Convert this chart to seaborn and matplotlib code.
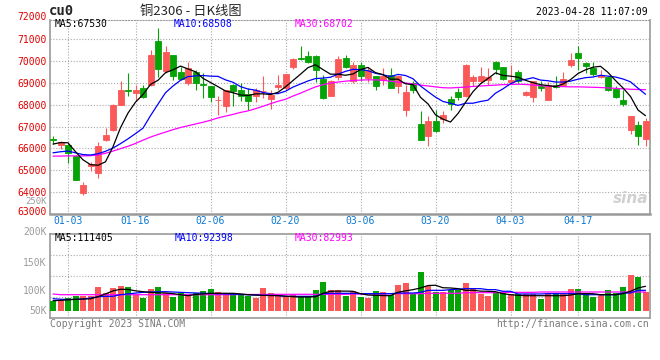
import numpy as np
import pandas as pd
import matplotlib
matplotlib.use("Agg")
import matplotlib.pyplot as plt
from matplotlib.transforms import ScaledTranslation
import seaborn as sns

# trading days shown (cu0 daily K)
dates = ["12-29", "12-30", "01-03", "01-04", "01-05", "01-06", "01-09", "01-10", "01-11", "01-12",
         "01-13", "01-16", "01-17", "01-18", "01-19", "01-20", "01-30", "01-31", "02-01", "02-02",
         "02-03", "02-06", "02-07", "02-08", "02-09", "02-10", "02-13", "02-14", "02-15", "02-16",
         "02-17", "02-20", "02-21", "02-22", "02-23", "02-24", "02-27", "02-28", "03-01", "03-02",
         "03-03", "03-06", "03-07", "03-08", "03-09", "03-10", "03-13", "03-14", "03-15", "03-16",
         "03-17", "03-20", "03-21", "03-22", "03-23", "03-24", "03-27", "03-28", "03-29", "03-30",
         "03-31", "04-03", "04-04", "04-06", "04-07", "04-10", "04-11", "04-12", "04-13", "04-14",
         "04-17", "04-18", "04-19", "04-20", "04-21", "04-24", "04-25", "04-26", "04-27", "04-28"]

opens = [66420, 66180, 66180, 65650, 63970, 65200, 64860, 66380, 66860, 68000,
         68680, 68540, 68760, 68890, 70920, 69530, 70290, 69480, 68990, 69520,
         68930, 68870, 68220, 67930, 68920, 68660, 68500, 68380, 68620, 68280,
         68800, 68760, 69750, 70140, 70240, 70240, 69170, 68410, 69270, 70130,
         69110, 69830, 69220, 69300, 69150, 69370, 68840, 67780, 68990, 67140,
         66590, 67240, 67350, 68260, 68570, 68410, 69110, 69110, 69140, 69940,
         69710, 69050, 69520, 68440, 68350, 68840, 68230, 68920, 68920, 69830,
         70360, 69900, 69680, 69270, 69270, 68720, 68230, 66830, 67090, 66440]

highs = [66560, 66350, 66200, 65700, 64475, 65380, 66290, 66940, 68050, 69070,
         69450, 68920, 68900, 70510, 71500, 70670, 70300, 69750, 69980, 69600,
         69450, 68880, 68380, 68680, 68930, 68990, 68760, 68760, 69300, 68690,
         69370, 69430, 70160, 70700, 70440, 70290, 69370, 69150, 70210, 70290,
         69940, 69940, 69750, 69310, 69680, 69680, 69370, 68920, 69070, 67700,
         67470, 67780, 67700, 68410, 68760, 69860, 69370, 69750, 69680, 70010,
         69750, 69830, 69600, 68610, 69110, 69070, 69020, 69330, 69480, 70360,
         70670, 69980, 69980, 69600, 69330, 68870, 68690, 67480, 67270, 67400]

lows = [66220, 65980, 65340, 64550, 63860, 64960, 64630, 66350, 66800, 67980,
        68410, 68160, 68330, 68860, 69270, 69450, 69140, 69150, 68920, 68690,
        68310, 68110, 67550, 67650, 67960, 68160, 67780, 68110, 68310, 67810,
        68690, 68690, 69630, 70070, 69900, 69020, 68280, 68400, 69140, 69680,
        68990, 69070, 69020, 68660, 68920, 68750, 68540, 67470, 68540, 66380,
        66130, 66740, 67170, 67750, 68230, 68340, 68840, 68990, 68920, 69420,
        69140, 68990, 68990, 68410, 68110, 68610, 68220, 68760, 68840, 69750,
        69570, 69450, 69330, 69220, 68610, 68310, 67930, 66640, 66180, 66100]

closes = [66400, 66300, 65800, 64550, 64350, 65300, 66130, 66630, 68000, 68690,
          68640, 68660, 68350, 70290, 69650, 70410, 69300, 69180, 69680, 68990,
          68900, 68350, 68240, 68660, 68610, 68410, 68160, 68660, 68650, 68460,
          68920, 69420, 70100, 70100, 69980, 69570, 68290, 69070, 70090, 69750,
          69830, 69300, 69600, 68870, 69300, 68760, 69300, 68570, 68660, 66410,
          67240, 66820, 67550, 68050, 68340, 69800, 69270, 69330, 69270, 69650,
          69180, 69140, 69070, 68570, 69070, 68760, 68920, 68810, 69180, 70060,
          70160, 69780, 69420, 69370, 68660, 68340, 68050, 67470, 66560, 67240]

ma5 = [66200, 66270, 66260, 65850, 65480, 65260, 65230, 65390, 66080, 66950,
       67620, 68120, 68470, 68930, 69120, 69470, 69600, 69770, 69640, 69510,
       69210, 69020, 68830, 68630, 68550, 68450, 68420, 68500, 68500, 68470,
       68570, 68820, 69110, 69400, 69700, 69830, 69610, 69400, 69400, 69350,
       69410, 69610, 69710, 69470, 69380, 69170, 69170, 68960, 68920, 68340,
       68040, 67540, 67340, 67210, 67600, 68110, 68600, 68960, 69200, 69460,
       69340, 69310, 69260, 69120, 69010, 68920, 68880, 68830, 68950, 69150,
       69430, 69600, 69720, 69760, 69480, 69110, 68770, 68380, 67760, 67500]

ma10 = [65800, 65850, 65880, 65800, 65720, 65700, 65760, 65870, 66020, 66220,
        66440, 66680, 66930, 67500, 68030, 68550, 68860, 69120, 69290, 69320,
        69340, 69310, 69300, 69140, 69030, 68830, 68720, 68670, 68560, 68510,
        68510, 68620, 68810, 68950, 69090, 69200, 69220, 69260, 69400, 69530,
        69620, 69610, 69560, 69440, 69370, 69290, 69390, 69340, 69190, 68860,
        68600, 68350, 68150, 68070, 67970, 68070, 68070, 68150, 68210, 68530,
        68730, 68960, 69110, 69160, 69240, 69130, 69100, 69040, 69040, 69080,
        69170, 69240, 69270, 69350, 69310, 69270, 69180, 69050, 68760, 68480]

ma30 = [65650, 65650, 65660, 65660, 65660, 65670, 65700, 65780, 65880, 65990,
        66100, 66230, 66380, 66520, 66640, 66750, 66860, 66960, 67040, 67120,
        67200, 67290, 67400, 67480, 67560, 67650, 67720, 67820, 67930, 68050,
        68160, 68250, 68400, 68530, 68680, 68820, 68920, 68990, 69040, 69080,
        69110, 69130, 69140, 69140, 69120, 69080, 69040, 69000, 68950, 68900,
        68860, 68820, 68780, 68770, 68790, 68810, 68840, 68860, 68880, 68900,
        68920, 68930, 68940, 68930, 68900, 68870, 68850, 68840, 68830, 68820,
        68820, 68810, 68800, 68790, 68770, 68750, 68730, 68710, 68700, 68690]

volumes = [80900, 82700, 85700, 89800, 89800, 88800, 105400, 94700, 103600, 107200,
           105400, 91600, 85700, 101800, 105400, 94100, 87500, 94700, 91600, 94700,
           98200, 101800, 97000, 94100, 94700, 91600, 88800, 85700, 103600, 94700,
           91600, 87500, 91600, 87500, 88800, 100000, 114300, 100000, 100000, 89800,
           97700, 87500, 85700, 98200, 96400, 91600, 109000, 112500, 92900, 132200,
           106600, 96400, 96400, 100500, 100500, 112500, 102300, 92900, 89800, 96400,
           94700, 92900, 92900, 92900, 92900, 83900, 94700, 94700, 92900, 101800,
           101800, 94700, 87500, 92900, 100000, 94700, 105400, 126800, 123200, 96400]

vol_ma5 = [80900, 81500, 82500, 83300, 83900, 84200, 88000, 93000, 98500, 101300,
           101000, 98500, 97000, 95800, 95000, 94650, 93500, 91600, 89800, 92000,
           93000, 94000, 94100, 94100, 94100, 93000, 91600, 91000, 90500, 90000,
           90000, 89000, 88000, 87500, 87500, 88000, 94000, 97700, 98000, 98000,
           97700, 93400, 91000, 90500, 90000, 89800, 96000, 98500, 100600, 103600,
           108000, 108500, 104000, 103600, 102400, 99400, 99400, 98000, 97700, 97000,
           93400, 91600, 90500, 89800, 89800, 89800, 89800, 89800, 89800, 91000,
           93400, 93400, 93400, 91600, 91600, 91600, 93400, 97700, 103600, 106600]

vol_ma10 = [84500, 83500, 83000, 83300, 83900, 85700, 88000, 88700, 88700, 91600,
            93000, 94500, 95800, 96400, 96800, 97000, 96400, 95800, 95200, 94650,
            94300, 93800, 93400, 93000, 92500, 92000, 91600, 91000, 90500, 90500,
            90000, 88700, 88700, 88700, 88700, 88700, 93400, 94100, 94100, 94100,
            94100, 93400, 93400, 93400, 93400, 93400, 94650, 94650, 94650, 95800,
            99400, 99400, 99400, 100600, 101500, 102400, 102400, 102400, 100600, 100600,
            97700, 97700, 92900, 92900, 92900, 92900, 93400, 93400, 93400, 93400,
            93400, 91600, 91600, 91600, 91600, 91600, 94650, 94650, 99400, 99400]

vol_ma30 = [92900, 91600, 91600, 91600, 91600, 91600, 91600, 91600, 91600, 91600,
            91600, 91600, 91600, 91600, 91600, 91600, 91600, 91600, 91600, 91600,
            91600, 91600, 91600, 91600, 91600, 92000, 92000, 92000, 92000, 92000,
            92300, 92300, 92300, 92300, 92300, 92300, 92300, 92300, 92300, 92300,
            92900, 92900, 92900, 92900, 92900, 93400, 93400, 93400, 93400, 93400,
            94100, 94100, 94100, 94100, 94100, 95200, 95200, 95200, 95200, 95200,
            95800, 95800, 95800, 95800, 95800, 96400, 96400, 96400, 96400, 96400,
            96400, 96400, 96400, 96400, 96400, 96400, 96400, 96400, 96400, 96400]

tick_dates = ["01-03", "01-16", "02-06", "02-20", "03-06", "03-20", "04-03", "04-17"]
price_ticks = [63000, 64000, 65000, 66000, 67000, 68000, 69000, 70000, 71000]
vol_ticks = [50000, 100000, 150000, 200000]
vol_tick_labels = ["50K", "100K", "150K", "200K"]

RED = "#fb5858"
GREEN = "#05a305"
GRID = "#a9a9a9"
FRAME = "#9a9a9a"
GRAY = "#9c9c9c"
BLUE_TXT = "#0a78d2"
DOTS = (0, (1, 1.6))

sns.set_style("white")
plt.rcParams["font.family"] = ["DejaVu Sans Mono"]
plt.rcParams["font.size"] = 7

df = pd.DataFrame({"date": dates, "open": opens, "high": highs, "low": lows,
                   "close": closes, "volume": volumes})
df["x"] = np.arange(len(df))
df["color"] = np.where(df["close"] >= df["open"], RED, GREEN)
tick_pos = [dates.index(d) for d in tick_dates]

W, H = 660, 360
fig = plt.figure(figsize=(W / 100, H / 100), dpi=100)
ax = fig.add_axes([50 / W, 1 - 214 / H, 600 / W, 194 / H])
axv = fig.add_axes([50 / W, 1 - 318 / H, 600 / W, 84 / H])

# candles
ax.vlines(df["x"], df["low"], df["high"], colors=df["color"], lw=0.8, zorder=3)
body_low = df[["open", "close"]].min(axis=1)
body_h = (df["close"] - df["open"]).abs()
ax.bar(df["x"], body_h, bottom=body_low, width=0.8, color=df["color"],
       edgecolor=df["color"], linewidth=0.6, zorder=3)

ma = pd.DataFrame({"x": df["x"], "MA5": ma5, "MA10": ma10, "MA30": ma30})
ma = ma.melt("x", var_name="line", value_name="v")
pal = {"MA5": "black", "MA10": "#0000ff", "MA30": "#ff00ff"}
sns.lineplot(data=ma, x="x", y="v", hue="line", palette=pal, hue_order=["MA30", "MA10", "MA5"],
             estimator=None, lw=0.9, legend=False, ax=ax, zorder=4)

# volume
vol_base = 62500
axv.bar(df["x"], df["volume"] - vol_base, bottom=vol_base, width=0.8,
        color=df["color"], linewidth=0, zorder=3)
vma = pd.DataFrame({"x": df["x"], "MA5": vol_ma5, "MA10": vol_ma10, "MA30": vol_ma30})
vma = vma.melt("x", var_name="line", value_name="v")
sns.lineplot(data=vma, x="x", y="v", hue="line", palette=pal, hue_order=["MA30", "MA10", "MA5"],
             estimator=None, lw=0.9, legend=False, ax=axv, zorder=4)

for a in (ax, axv):
    a.set_xlim(-0.4, 79.6)
    a.set_xticks(tick_pos)
    a.set_xlabel("")
    a.set_ylabel("")
    a.tick_params(length=0)
    a.xaxis.grid(True, color=GRID, ls=DOTS, lw=0.8)
    for s in a.spines.values():
        s.set_color(FRAME)
        s.set_linewidth(1.2)
    a.set_axisbelow(True)

# price axis
ax.set_ylim(63000, 71880)
ax.set_yticks(price_ticks)
ax.set_yticklabels([str(v) for v in price_ticks], color="#e00000")
ax.yaxis.grid(True, color=GRID, ls=DOTS, lw=0.8)
ax.spines["top"].set_linestyle(DOTS)
ax.spines["top"].set_linewidth(0.8)
ax.spines["bottom"].set_linewidth(1.8)
ax.tick_params(axis="y", pad=2.5)
ax.tick_params(axis="x", pad=1.5, labelcolor=BLUE_TXT)
ax.set_xticklabels(tick_dates)
ax.text(-3 / 600, 72000, "72000", transform=ax.get_yaxis_transform(), ha="right",
        va="center", color="#e00000", clip_on=False)
ax.get_yticklabels()[0].set_transform(
    ax.get_yticklabels()[0].get_transform() + ScaledTranslation(0, 0.03, fig.dpi_scale_trans))

# volume axis
axv.set_ylim(50000, 200000)
axv.set_yticks(vol_ticks)
axv.set_yticklabels(vol_tick_labels, color=GRAY)
axv.set_yticks([87500, 125000, 162500], minor=True)
axv.yaxis.grid(True, which="minor", color=GRID, ls=DOTS, lw=0.8)
axv.tick_params(which="both", length=0)
axv.tick_params(axis="y", pad=2.5)
axv.set_xticklabels([])
labs = axv.get_yticklabels()
labs[0].set_transform(labs[0].get_transform() + ScaledTranslation(0, 0.08, fig.dpi_scale_trans))
labs[3].set_transform(labs[3].get_transform() + ScaledTranslation(0, 0.03, fig.dpi_scale_trans))
fig.text(47 / W, 1 - 202 / H, "250K", ha="right", va="center", color=GRAY, fontsize=6.5)

# header / legends
fig.text(49 / W, 1 - 11 / H, "cu0", ha="left", va="center", fontsize=10, weight="bold")
fig.text(140 / W, 1 - 11 / H, "铜2306 - 日K线图", ha="left", va="center", fontsize=9.5,
         family=["Noto Sans CJK SC", "DejaVu Sans"])
fig.text(648 / W, 1 - 12 / H, "2023-04-28 11:07:09", ha="right", va="center", color="black")
fig.text(55 / W, 1 - 24 / H, "MA5:67530", va="center", color="black")
fig.text(174 / W, 1 - 24 / H, "MA10:68508", va="center", color="#0000ff")
fig.text(295 / W, 1 - 24 / H, "MA30:68702", va="center", color="#ff00ff")
fig.text(55 / W, 1 - 238 / H, "MA5:111405", va="center", color="black")
fig.text(175 / W, 1 - 238 / H, "MA10:92398", va="center", color="#0000ff")
fig.text(295 / W, 1 - 238 / H, "MA30:82993", va="center", color="#ff00ff")

# watermark and footer
fig.text(648 / W, 1 - 198 / H, "sina", ha="right", va="center", fontsize=11, color="#d0d0d0",
         style="italic", weight="bold", family=["DejaVu Sans"])
fig.text(50 / W, 1 - 324 / H, "Copyright 2023 SINA.COM", va="center", color="#7a7a7a")
fig.text(649 / W, 1 - 324 / H, "http://finance.sina.com.cn", ha="right", va="center", color="#7a7a7a")

fig.savefig("out.png", dpi=100)
